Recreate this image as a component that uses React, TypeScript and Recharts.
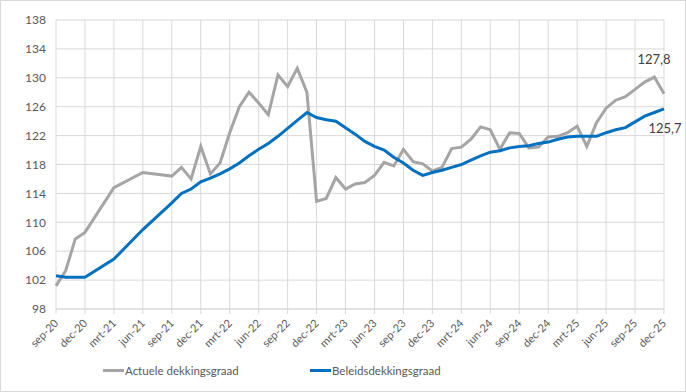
import { LineChart, Line, XAxis, YAxis, CartesianGrid } from 'recharts';

const months = [
    'sep-20', 'okt-20', 'nov-20', 'dec-20', 'jan-21', 'feb-21', 'mrt-21', 'apr-21', 'mei-21', 'jun-21', 'jul-21', 'aug-21',
    'sep-21', 'okt-21', 'nov-21', 'dec-21', 'jan-22', 'feb-22', 'mrt-22', 'apr-22', 'mei-22', 'jun-22', 'jul-22', 'aug-22',
    'sep-22', 'okt-22', 'nov-22', 'dec-22', 'jan-23', 'feb-23', 'mrt-23', 'apr-23', 'mei-23', 'jun-23', 'jul-23', 'aug-23',
    'sep-23', 'okt-23', 'nov-23', 'dec-23', 'jan-24', 'feb-24', 'mrt-24', 'apr-24', 'mei-24', 'jun-24', 'jul-24', 'aug-24',
    'sep-24', 'okt-24', 'nov-24', 'dec-24', 'jan-25', 'feb-25', 'mrt-25', 'apr-25', 'mei-25', 'jun-25', 'jul-25', 'aug-25',
    'sep-25', 'okt-25', 'nov-25', 'dec-25',
];

// kwartaalcijfers in 2021, daarna maandelijks
const actueel = [
    101.2, 103.3, 107.7, 108.6, null, null, 114.8, null, null, 116.9, null, null,
    116.4, 117.6, 116.0, 120.5, 116.7, 118.2, 122.4, 126.0, 128.0, 126.5, 124.9, 130.4,
    128.8, 131.3, 128.0, 112.9, 113.3, 116.2, 114.6, 115.3, 115.5, 116.5, 118.3, 117.8,
    120.1, 118.4, 118.1, 117.1, 117.6, 120.2, 120.4, 121.5, 123.2, 122.8, 120.1, 122.4,
    122.3, 120.3, 120.4, 121.8, 121.9, 122.4, 123.3, 120.5, 123.8, 125.8, 126.9, 127.4,
    128.4, 129.4, 130.1, 127.8,
];

const beleid = [
    102.6, 102.4, 102.4, 102.4, null, null, 104.9, null, null, 109.0, null, null,
    112.7, 114.0, 114.6, 115.6, 116.1, 116.7, 117.4, 118.2, 119.2, 120.1, 120.9, 121.9,
    123.0, 124.1, 125.2, 124.5, 124.2, 124.0, 123.1, 122.2, 121.2, 120.5, 120.0, 119.0,
    118.2, 117.2, 116.5, 116.9, 117.2, 117.6, 118.0, 118.6, 119.2, 119.7, 119.9, 120.3,
    120.5, 120.6, 120.9, 121.1, 121.5, 121.8, 121.9, 121.9, 121.9, 122.4, 122.8, 123.1,
    123.9, 124.7, 125.2, 125.7,
];

const xTicks = [
    'sep-20', 'dec-20', 'mrt-21', 'jun-21', 'sep-21', 'dec-21', 'mrt-22', 'jun-22', 'sep-22', 'dec-22', 'mrt-23',
    'jun-23', 'sep-23', 'dec-23', 'mrt-24', 'jun-24', 'sep-24', 'dec-24', 'mrt-25', 'jun-25', 'sep-25', 'dec-25',
];
const yTicks = [98, 102, 106, 110, 114, 118, 122, 126, 130, 134, 138];

const GRAY = '#a5a5a5';
const BLUE = '#0070c0';
const FONT = 'Lato, "Open Sans", sans-serif';

const data = months.map((m, i) => ({ month: m, actueel: actueel[i], beleid: beleid[i] }));
const last = months.length - 1;

const fmt = (v: number) => v.toFixed(1).replace('.', ',');

const RotatedTick = ({ x, y, payload }: any) => (
    <text
        x={x + 3}
        y={y + 8}
        transform={`rotate(-45, ${x + 3}, ${y + 8})`}
        textAnchor="end"
        fontSize={11}
        fill="#595959"
        fontFamily={FONT}
    >
        {payload.value}
    </text>
);

const endLabel = (dx: number, dy: number) => (props: any) => {
    if (props.index !== last) return null;
    return (
        <text x={props.x + dx} y={props.y + dy} textAnchor="middle" fontSize={13} fill="#404040" fontFamily={FONT}>
            {fmt(props.value)}
        </text>
    );
};

const legendItem = (left: number, color: string, text: string) => (
    <div style={{ position: 'absolute', top: 363, left, display: 'flex', alignItems: 'center', fontSize: 11.5, color: '#595959' }}>
        <span style={{ display: 'inline-block', width: 21, height: 3, background: color, marginRight: 1 }} />
        <span>{text}</span>
    </div>
);

export default function App() {
    return (
        <div
            style={{
                position: 'absolute',
                left: 0,
                top: 0,
                width: 686,
                height: 392,
                boxSizing: 'border-box',
                border: '1px solid #d9d9d9',
                background: '#fff',
                fontFamily: FONT,
            }}
        >
            <LineChart width={684} height={390} data={data} margin={{ top: 19, right: 21, bottom: 32, left: 0 }}>
                <CartesianGrid stroke="#d9d9d9" />
                <XAxis
                    dataKey="month"
                    ticks={xTicks}
                    interval={0}
                    tick={<RotatedTick />}
                    tickSize={5}
                    stroke="#d9d9d9"
                    height={50}
                />
                <YAxis
                    domain={[98, 138]}
                    ticks={yTicks}
                    width={55}
                    axisLine={false}
                    tickLine={false}
                    tickSize={0}
                    tickMargin={10}
                    tick={{ fontSize: 12, fill: '#595959', fontFamily: FONT }}
                />
                <Line
                    dataKey="actueel"
                    stroke={GRAY}
                    strokeWidth={3}
                    dot={false}
                    connectNulls
                    isAnimationActive={false}
                    label={endLabel(-10, -30)}
                />
                <Line
                    dataKey="beleid"
                    stroke={BLUE}
                    strokeWidth={3}
                    dot={false}
                    connectNulls
                    isAnimationActive={false}
                    label={endLabel(1, 24)}
                />
            </LineChart>
            {legendItem(102, GRAY, 'Actuele dekkingsgraad')}
            {legendItem(309, BLUE, 'Beleidsdekkingsgraad')}
        </div>
    );
}
